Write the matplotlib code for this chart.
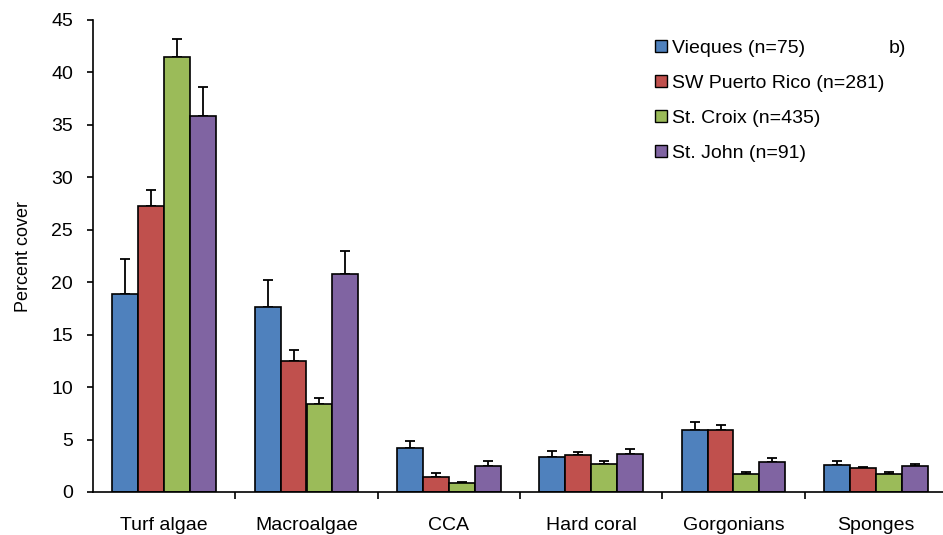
import numpy as np
import matplotlib
matplotlib.use("Agg")
import matplotlib.pyplot as plt

plt.rcParams['font.family'] = ['Liberation Sans', 'DejaVu Sans']

categories = ['Turf algae', 'Macroalgae', 'CCA', 'Hard coral', 'Gorgonians', 'Sponges']
sites = ['Vieques (n=75)', 'SW Puerto Rico (n=281)', 'St. Croix (n=435)', 'St. John (n=91)']
colors = ['#4f81bd', '#c0504d', '#9bbb59', '#8064a2']

vieques = [18.9, 17.6, 4.15, 3.35, 5.9, 2.6]
sw_pr = [27.3, 12.5, 1.4, 3.5, 5.9, 2.25]
st_croix = [41.5, 8.4, 0.85, 2.7, 1.75, 1.75]
st_john = [35.8, 20.75, 2.5, 3.65, 2.9, 2.45]

vieques_se = [3.3, 2.6, 0.75, 0.55, 0.75, 0.4]
sw_pr_se = [1.5, 1.0, 0.4, 0.3, 0.45, 0.15]
st_croix_se = [1.7, 0.6, 0.15, 0.25, 0.15, 0.15]
st_john_se = [2.8, 2.25, 0.5, 0.45, 0.3, 0.25]

means = [vieques, sw_pr, st_croix, st_john]
errs = [vieques_se, sw_pr_se, st_croix_se, st_john_se]

fig = plt.figure(figsize=(9.43, 5.35), dpi=100)
ax = fig.add_axes([93 / 943, 43 / 535, 854 / 943, 472 / 535])

x = np.arange(len(categories))
w = 0.182
for i in range(4):
    pos = x + (i - 1.5) * w
    ax.bar(pos, means[i], w, color=colors[i], edgecolor='black', linewidth=1.2,
           label=sites[i], zorder=2)
    ax.errorbar(pos, means[i], yerr=[np.zeros(6), errs[i]], fmt='none',
                ecolor='black', elinewidth=1.3, capsize=3.8, capthick=1.3, zorder=1)

ax.set_xlim(-0.5, len(categories) - 0.5)
ax.set_ylim(0, 45)
ax.set_yticks(range(0, 46, 5))
ax.set_xticks(x)
ax.set_xticklabels(categories, fontsize=14)
ax.set_xticks(np.arange(0.5, len(categories) - 0.5, 1), minor=True)
ax.tick_params(axis='x', which='major', length=0, pad=18)
ax.tick_params(axis='x', which='minor', length=5, width=1.2, direction='out')
ax.tick_params(axis='y', labelsize=14, length=4.3, width=1.2, direction='out', pad=10)
ax.spines['top'].set_visible(False)
ax.spines['right'].set_visible(False)
ax.spines['left'].set_linewidth(1.2)
ax.spines['bottom'].set_linewidth(1.2)
ax.set_ylabel('Percent cover', fontsize=13, labelpad=14)

leg = ax.legend(loc='upper left', bbox_to_anchor=(0.649, 0.975), frameon=False,
                fontsize=14, handlelength=0.6, handleheight=0.6, handletextpad=0.25,
                labelspacing=0.93, borderaxespad=0)
for p in leg.get_patches():
    p.set_linewidth(1.0)
ax.text(0.932, 0.931, 'b)', transform=ax.transAxes, fontsize=14)

fig.savefig('out.png', dpi=100)
